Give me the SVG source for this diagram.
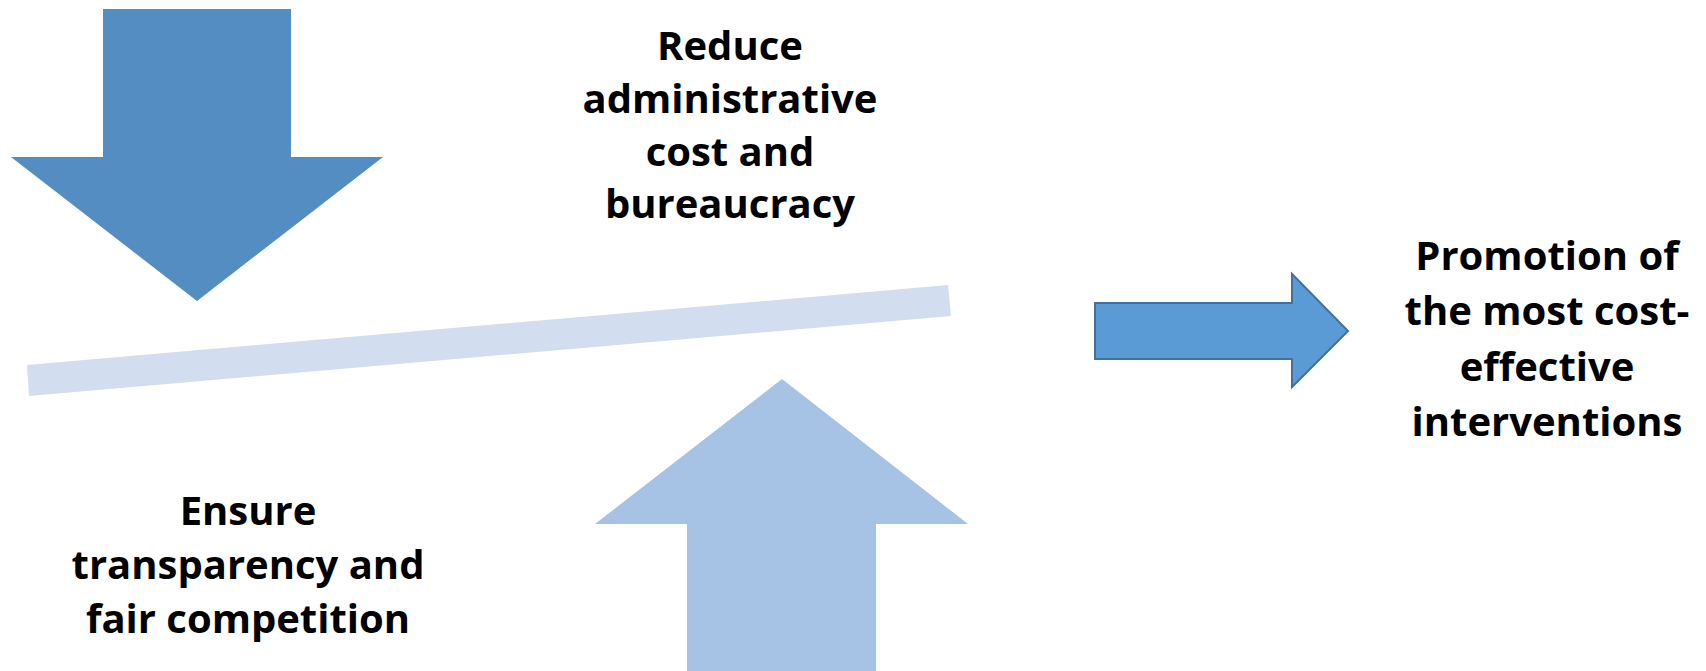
<svg xmlns="http://www.w3.org/2000/svg" width="1706" height="671" viewBox="0 0 1706 671">
<style>
.lbl{font-family:"Open Sans","Liberation Sans",sans-serif;font-weight:bold;font-size:40px;fill:#000;text-anchor:middle}
</style>
<rect width="1706" height="671" fill="#fff"/>
<g id="bar">
<polygon points="27,365 948,285 951,316 29,396" fill="#D2DEEF"/>
</g>
<g id="down-arrow">
<polygon points="103,9 291,9 291,157 383,157 197,301 11,157 103,157" fill="#538DC2"/>
</g>
<g id="up-arrow">
<polygon points="782,379 968,524 876,524 876,671 687,671 687,524 595,524" fill="#A6C2E4"/>
</g>
<g id="connectors">
<polygon points="1095,303 1292,303 1292,274 1348,331 1292,387 1292,359 1095,359" fill="#5B9BD5" stroke="#41719C" stroke-width="2"/>
</g>
<g id="reduce">
<text class="lbl" x="730" y="60">Reduce</text>
<text class="lbl" x="730" y="113">administrative</text>
<text class="lbl" x="730" y="166">cost and</text>
<text class="lbl" x="730" y="218">bureaucracy</text>
</g>
<g id="ensure">
<text class="lbl" x="248" y="525">Ensure</text>
<text class="lbl" x="248" y="579">transparency and</text>
<text class="lbl" x="248" y="633">fair competition</text>
</g>
<g id="promotion">
<text class="lbl" x="1547" y="270">Promotion of</text>
<text class="lbl" x="1547" y="325">the most cost-</text>
<text class="lbl" x="1547" y="381">effective</text>
<text class="lbl" x="1547" y="436">interventions</text>
</g>
</svg>
